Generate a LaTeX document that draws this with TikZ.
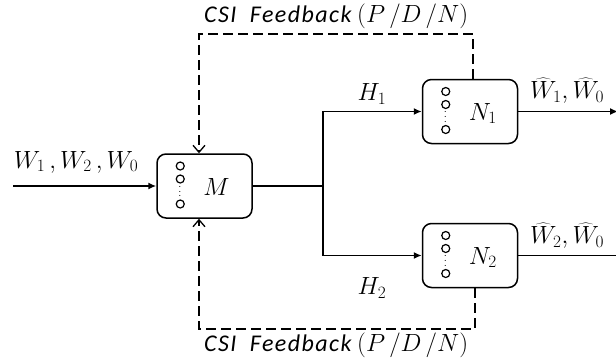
\documentclass[tikz,border=0pt]{standalone}
\usepackage{fontspec}
\setmainfont{Carlito}
\usepackage{tikz}
\usetikzlibrary{arrows.meta}
\usetikzlibrary{positioning}
\tikzset{
    unit/.style={
           rectangle,
           draw=black, line width=1.5pt,
           rounded corners=9pt,
           minimum width=95pt,
           minimum height=64pt,
           },
}
\tikzset{
    feed/.style={
           draw=black, line width=1.5pt,
           dash pattern=on 10pt off 5pt,
           -{Straight Barb[length=7pt,width=12pt,line width=1.3pt]},
           },
}
\tikzset{
    wire/.style={
           draw=black, line width=1.5pt,
           },
}
\tikzset{
    tip/.style={
           -{Latex[length=8pt,width=7pt]},
           },
}
\tikzset{
    ant/.style={
           circle,
           draw=black, line width=1.2pt,
           inner sep=0pt,
           minimum size=8pt,
           },
}
\tikzset{
    lbl/.style={
           font=\fontsize{23}{26}\selectfont,
           inner sep=1pt,
           },
}
\tikzset{
    big/.style={
           font=\fontsize{27}{29}\selectfont,
           inner sep=1pt,
           },
}
\newcommand{\csilabel}{{\fontsize{24}{26}\selectfont\addfontfeature{LetterSpace=6}\textit{CSI}\hspace{12pt}\textit{Feedback}\hspace{4pt}}$(P\,/D\,/N)$}
\begin{document}
\begin{tikzpicture}[x=1pt,y=-1pt]
\useasboundingbox (0,0) rectangle (616,360);
\node[unit](M) at (204.5,186){};
\node[unit](N1) at (470,111.5){};
\node[unit](N2) at (470,255.5){};
\node[big,anchor=west](tM) at ([xshift=46pt,yshift=-1pt]M.west){$M$};
\node[big,anchor=west](tN1) at ([xshift=46pt,yshift=-2pt]N1.west){$N_1$};
\node[big,anchor=west](tN2) at ([xshift=46pt,yshift=-2pt]N2.west){$N_2$};
\foreach \b in {M,N1,N2}{
  \node[ant](\b a) at ([xshift=24pt,yshift=20pt]\b.west){};
  \node[ant](\b b) at ([xshift=24pt,yshift=7pt]\b.west){};
  \node[ant](\b c) at ([xshift=24pt,yshift=-18pt]\b.west){};
  \path (\b b.south) -- (\b c.north) node[pos=0.5,font=\fontsize{11}{11}\selectfont,rotate=90](\b d){$\cdots$};
}
\coordinate (in) at (13,186);
\coordinate (split) at (323,186);
\coordinate (o1) at (618,111.5);
\coordinate (o2) at (640,255.5);
\coordinate (ft) at (199,34);
\coordinate (fb) at (199,329);
\node[lbl](w) at (76,162){$W_1\,,W_2\,,W_0$};
\draw[wire,tip] (in) -- (M.west);
\draw[wire] (M.east) -- (split);
\draw[wire,tip] (split) |- (N1.west);
\draw[wire,tip] (split) |- (N2.west);
\node[lbl](h1) at (372,94){$H_1$};
\node[lbl](h2) at (372,288){$H_2$};
\draw[wire,tip] (N1.east) -- (o1);
\draw[wire,tip] (N2.east) -- (o2);
\node[lbl,anchor=west](y1) at (529,91){$\widehat{W}_1,\widehat{W}_0$};
\node[lbl,anchor=west](y2) at (529,236){$\widehat{W}_2,\widehat{W}_0$};
\draw[feed] ([xshift=3pt]N1.north) |- (ft) -- (ft |- M.north);
\draw[feed] ([xshift=5pt]N2.south) |- (fb) -- (fb |- M.south);
\node[lbl,anchor=west](c1) at (203,16){\csilabel};
\node[lbl,anchor=west](c2) at (203,345){\csilabel};
\end{tikzpicture}
\end{document}
